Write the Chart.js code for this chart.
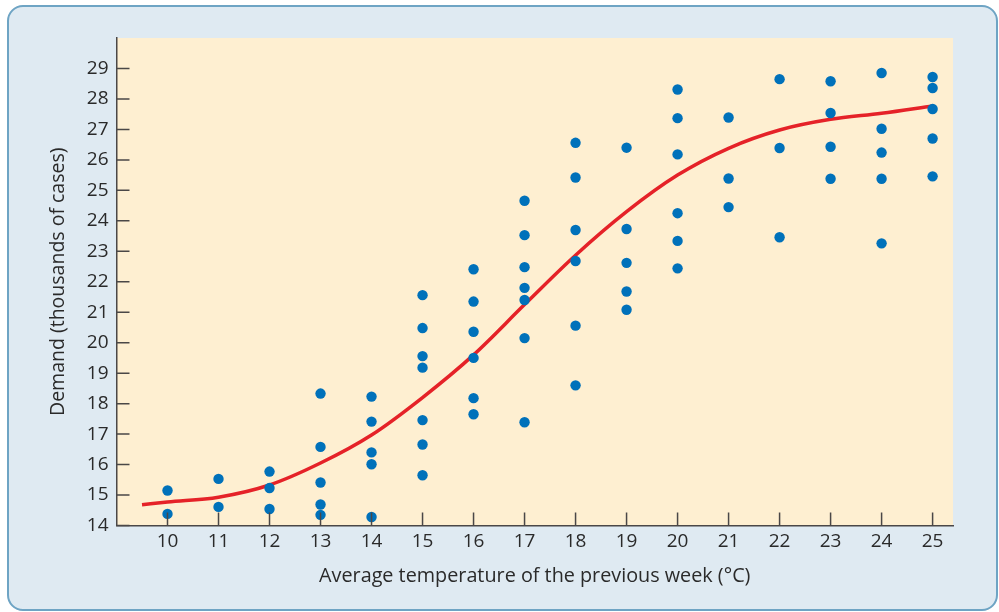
<!DOCTYPE html>
<html>
<head>
<meta charset="utf-8">
<script src="https://cdn.jsdelivr.net/npm/chart.js@4"></script>
<style>
  html, body { margin: 0; padding: 0; background: #ffffff; }
  #wrap { position: relative; width: 999px; height: 612px; overflow: hidden; }
  #frame { position: absolute; left: 7px; top: 5px; width: 987px; height: 602px;
           border: 2.5px solid #6ea4c4; border-radius: 16px; background: #dfeaf2; }
  #c { position: absolute; left: 0; top: 0; }
</style>
</head>
<body>
<div id="wrap">
  <div id="frame"></div>
  <canvas id="c" width="999" height="612"></canvas>
</div>
<script>
// Temperature columns (°C) and demand observations (thousands of cases)
const temperatures = [10, 11, 12, 13, 14, 15, 16, 17, 18, 19, 20, 21, 22, 23, 24, 25];
const demandAt10 = [15.15, 14.38];
const demandAt11 = [15.53, 14.61];
const demandAt12 = [15.77, 15.23, 14.54];
const demandAt13 = [18.33, 16.58, 15.41, 14.69, 14.35];
const demandAt14 = [18.23, 17.41, 16.40, 16.01, 14.28];
const demandAt15 = [21.56, 20.48, 19.56, 19.18, 17.46, 16.66, 15.65];
const demandAt16 = [22.41, 21.35, 20.36, 19.50, 18.18, 17.65];
const demandAt17 = [24.66, 23.53, 22.48, 21.80, 21.40, 20.15, 17.39];
const demandAt18 = [26.56, 25.42, 23.70, 22.68, 20.56, 18.60];
const demandAt19 = [26.40, 23.73, 22.62, 21.68, 21.08];
const demandAt20 = [28.31, 27.37, 26.18, 24.25, 23.34, 22.44];
const demandAt21 = [27.39, 25.39, 24.45];
const demandAt22 = [28.65, 26.39, 23.46];
const demandAt23 = [28.58, 27.54, 26.43, 25.38];
const demandAt24 = [28.85, 27.02, 26.24, 25.38, 23.26];
const demandAt25 = [28.72, 28.36, 27.67, 26.70, 25.46];
const demandColumns = [demandAt10, demandAt11, demandAt12, demandAt13, demandAt14, demandAt15,
  demandAt16, demandAt17, demandAt18, demandAt19, demandAt20, demandAt21, demandAt22,
  demandAt23, demandAt24, demandAt25];

// Fitted curve
const curveTemp   = [9.5, 10, 11, 12, 13, 14, 15, 16, 17, 18, 19, 20, 21, 22, 23, 24, 25];
const curveDemand = [14.68, 14.77, 14.93, 15.33, 16.05, 16.97, 18.2, 19.6, 21.25, 22.87, 24.3, 25.5, 26.38, 26.98, 27.33, 27.53, 27.77];

// Axis ticks
const xTickValues = [10, 11, 12, 13, 14, 15, 16, 17, 18, 19, 20, 21, 22, 23, 24, 25];
const yTickValues = [14, 15, 16, 17, 18, 19, 20, 21, 22, 23, 24, 25, 26, 27, 28, 29];

const xTitle = 'Average temperature of the previous week (°C)';
const yTitle = 'Demand (thousands of cases)';

const scatterPoints = [];
temperatures.forEach((t, i) => demandColumns[i].forEach(d => scatterPoints.push({x: t, y: d})));
const curvePoints = curveTemp.map((t, i) => ({x: t, y: curveDemand[i]}));

const AXIS_COLOR = '#4a4747';
const TEXT_COLOR = '#2a2a2a';
const FONT = '"Open Sans", sans-serif';

const plotBg = {
  id: 'plotBg',
  beforeDraw(chart) {
    const {ctx, chartArea: a} = chart;
    ctx.save();
    ctx.fillStyle = '#feefd1';
    ctx.fillRect(a.left, a.top, a.right - a.left, a.bottom - a.top);
    ctx.restore();
  }
};

const innerTicks = {
  id: 'innerTicks',
  afterDraw(chart) {
    const {ctx, chartArea: a, scales} = chart;
    ctx.save();
    ctx.strokeStyle = AXIS_COLOR;
    ctx.lineWidth = 1.5;
    ctx.beginPath();
    yTickValues.forEach(v => {
      const py = scales.y.getPixelForValue(v);
      ctx.moveTo(a.left, py); ctx.lineTo(a.left + 13, py);
    });
    xTickValues.forEach(v => {
      const px = scales.x.getPixelForValue(v);
      ctx.moveTo(px, a.bottom); ctx.lineTo(px, a.bottom - 13);
    });
    ctx.stroke();
    ctx.restore();
  }
};

new Chart(document.getElementById('c'), {
  type: 'scatter',
  data: {
    datasets: [
      {
        label: 'Demand',
        data: scatterPoints,
        backgroundColor: '#0071ba',
        borderColor: '#0071ba',
        pointRadius: 5.2,
        pointHoverRadius: 5.2,
        borderWidth: 0,
        order: 0
      },
      {
        type: 'line',
        label: 'Trend',
        data: curvePoints,
        borderColor: '#e52228',
        borderWidth: 3.5,
        pointRadius: 0,
        fill: false,
        cubicInterpolationMode: 'monotone',
        order: 1
      }
    ]
  },
  options: {
    responsive: false,
    animation: false,
    devicePixelRatio: 1,
    layout: { padding: { left: 0, top: 38, right: 46, bottom: 0 } },
    plugins: { legend: { display: false }, tooltip: { enabled: false } },
    scales: {
      x: {
        type: 'linear',
        min: 9, max: 25.4,
        afterBuildTicks: s => { s.ticks = xTickValues.map(v => ({value: v})); },
        afterFit: s => { s.height = 86.5; },
        grid: { display: false, drawTicks: false },
        border: { display: true, color: AXIS_COLOR, width: 1.5 },
        ticks: { color: TEXT_COLOR, font: { family: FONT, size: 19 }, padding: 5, maxRotation: 0, autoSkip: false },
        title: { display: true, text: xTitle, color: TEXT_COLOR, font: { family: FONT, size: 19.8 }, padding: { top: 0, bottom: 24 } }
      },
      y: {
        type: 'linear',
        min: 14, max: 30,
        afterBuildTicks: s => { s.ticks = yTickValues.map(v => ({value: v})); },
        afterFit: s => { s.width = 116.5; },
        grid: { display: false, drawTicks: false },
        border: { display: true, color: AXIS_COLOR, width: 1.5 },
        ticks: { color: TEXT_COLOR, font: { family: FONT, size: 19 }, padding: 8, autoSkip: false },
        title: { display: true, text: yTitle, color: TEXT_COLOR, font: { family: FONT, size: 19.5 }, padding: { top: 47, bottom: 0 } }
      }
    }
  },
  plugins: [plotBg, innerTicks]
});
</script>
</body>
</html>
